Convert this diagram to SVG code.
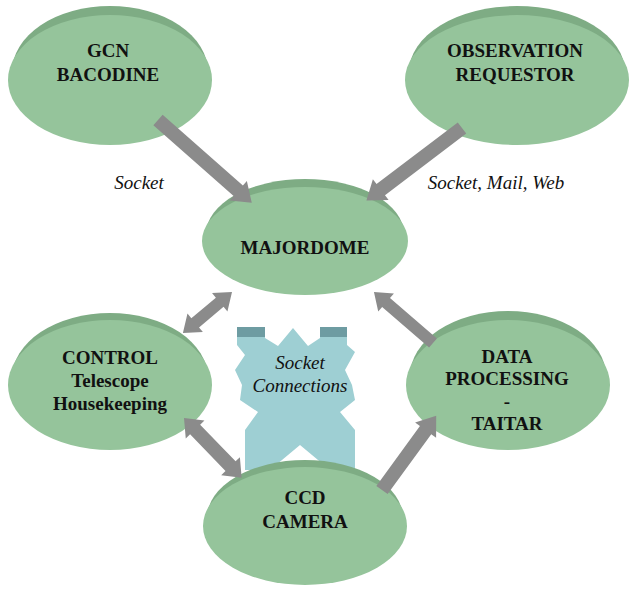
<svg xmlns="http://www.w3.org/2000/svg" width="634" height="593" viewBox="0 0 634 593">
<style>
.rim{fill:#7eac84}
.disc{fill:#95c49b}
.lbl{font-weight:bold;font-size:19px;fill:#111;text-anchor:middle}
.it{font-style:italic;font-size:19px;fill:#111;text-anchor:middle}
.arr{fill:#8b8b8b}
</style>
<rect width="634" height="593" fill="#ffffff"/>
<g font-family="Liberation Serif, Times New Roman, serif">
<g id="socket-connections">
<polygon fill="#9ecfd3" points="237,327 265,327 265,338 278,346 293,328 308,346 320,338 320,327 347,327 347,345 355,352 345,370 352,385 355,400 340,412 355,430 355,470 330,470 300,445 270,470 245,470 245,430 258,412 240,400 242,385 235,370 245,355 237,345"/>
<rect x="237" y="327" width="28" height="10" fill="#6e9ca2"/>
<rect x="320" y="327" width="27" height="10" fill="#6e9ca2"/>
<text class="it" x="300" y="369">Socket</text>
<text class="it" x="300" y="392">Connections</text>
</g>
<g id="gcn">
<ellipse class="rim" cx="110" cy="72" rx="98" ry="66"/>
<ellipse class="disc" cx="110" cy="80" rx="102" ry="65"/>
<text class="lbl" x="108" y="57">GCN</text>
<text class="lbl" x="108" y="81">BACODINE</text>
</g>
<g id="obs">
<ellipse class="rim" cx="517" cy="72" rx="108" ry="66"/>
<ellipse class="disc" cx="517" cy="80" rx="112" ry="65"/>
<text class="lbl" x="515" y="57">OBSERVATION</text>
<text class="lbl" x="515" y="81">REQUESTOR</text>
</g>
<g id="majordome">
<ellipse class="rim" cx="305" cy="234" rx="99" ry="55"/>
<ellipse class="disc" cx="305" cy="241" rx="103" ry="54"/>
<text class="lbl" x="305" y="254">MAJORDOME</text>
</g>
<g id="control">
<ellipse class="rim" cx="110" cy="378" rx="98" ry="65"/>
<ellipse class="disc" cx="110" cy="385" rx="102" ry="65"/>
<text class="lbl" x="110" y="364">CONTROL</text>
<text class="lbl" x="110" y="387">Telescope</text>
<text class="lbl" x="110" y="410">Housekeeping</text>
</g>
<g id="data">
<ellipse class="rim" cx="508" cy="376" rx="98" ry="65"/>
<ellipse class="disc" cx="508" cy="385" rx="102" ry="65"/>
<text class="lbl" x="507" y="363">DATA</text>
<text class="lbl" x="507" y="385">PROCESSING</text>
<text class="lbl" x="507" y="408">-</text>
<text class="lbl" x="507" y="430">TAITAR</text>
</g>
<g id="ccd">
<ellipse class="rim" cx="305" cy="518" rx="98" ry="58"/>
<ellipse class="disc" cx="305" cy="526" rx="102" ry="59"/>
<text class="lbl" x="305" y="504">CCD</text>
<text class="lbl" x="305" y="528">CAMERA</text>
</g>
<g id="connectors">
<path class="arr" transform="translate(158,120) rotate(41.4)" d="M0,-7 L107,-7 L107,-13 L125,0 L107,13 L107,7 L0,7 Z"/>
<path class="arr" transform="translate(462,128) rotate(142.8)" d="M0,-7 L102,-7 L102,-13 L120,0 L102,13 L102,7 L0,7 Z"/>
<path class="arr" transform="translate(232,292) rotate(140.1)" d="M16,-6 L48,-6 L48,-12 L64,0 L48,12 L48,6 L16,6 L16,12 L0,0 L16,-12 Z"/>
<path class="arr" transform="translate(433,343) rotate(-139.2)" d="M0,-6 L62,-6 L62,-12 L78,0 L62,12 L62,6 L0,6 Z"/>
<path class="arr" transform="translate(184,418) rotate(46)" d="M16,-7 L67,-7 L67,-13 L83,0 L67,13 L67,7 L16,7 L16,13 L0,0 L16,-13 Z"/>
<path class="arr" transform="translate(382,490) rotate(-53.9)" d="M0,-7 L74,-7 L74,-13 L92,0 L74,13 L74,7 L0,7 Z"/>
</g>
<g id="labels">
<text class="it" x="139" y="189">Socket</text>
<text class="it" x="496" y="189">Socket, Mail, Web</text>
</g>
</g>
</svg>
